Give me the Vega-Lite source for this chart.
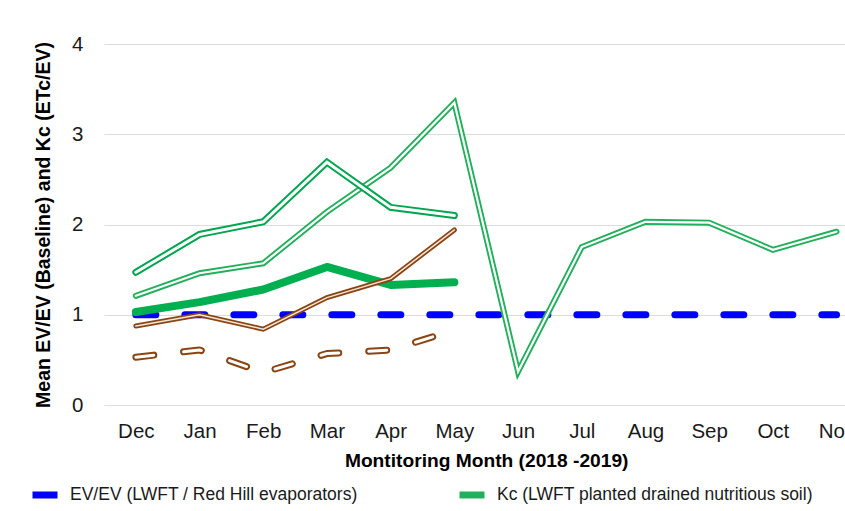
{
  "$schema": "https://vega.github.io/schema/vega-lite/v6.json",
  "width": 741,
  "height": 361,
  "autosize": {"type": "none"},
  "padding": {"left": 104, "top": 44, "right": 0, "bottom": 106},
  "background": "white",
  "config": {
    "view": {"stroke": null},
    "font": "Liberation Sans, Arial",
    "axis": {
      "labelFont": "Liberation Sans, Arial",
      "titleFont": "Liberation Sans, Arial",
      "labelColor": "#1a1a1a",
      "titleColor": "#000000"
    },
    "legend": {
      "labelFont": "Liberation Sans, Arial"
    }
  },
  "datasets": {
    "kc": [
      {"month": "Dec", "series": "EV/EV (LWFT / Red Hill evaporators)", "value": 1},
      {"month": "Jan", "series": "EV/EV (LWFT / Red Hill evaporators)", "value": 1},
      {"month": "Feb", "series": "EV/EV (LWFT / Red Hill evaporators)", "value": 1},
      {"month": "Mar", "series": "EV/EV (LWFT / Red Hill evaporators)", "value": 1},
      {"month": "Apr", "series": "EV/EV (LWFT / Red Hill evaporators)", "value": 1},
      {"month": "May", "series": "EV/EV (LWFT / Red Hill evaporators)", "value": 1},
      {"month": "Jun", "series": "EV/EV (LWFT / Red Hill evaporators)", "value": 1},
      {"month": "Jul", "series": "EV/EV (LWFT / Red Hill evaporators)", "value": 1},
      {"month": "Aug", "series": "EV/EV (LWFT / Red Hill evaporators)", "value": 1},
      {"month": "Sep", "series": "EV/EV (LWFT / Red Hill evaporators)", "value": 1},
      {"month": "Oct", "series": "EV/EV (LWFT / Red Hill evaporators)", "value": 1},
      {"month": "Nov", "series": "EV/EV (LWFT / Red Hill evaporators)", "value": 1},
      {"month": "Dec", "series": "Kc (LWFT planted drained nutritious soil)", "value": 1.21},
      {"month": "Jan", "series": "Kc (LWFT planted drained nutritious soil)", "value": 1.46},
      {"month": "Feb", "series": "Kc (LWFT planted drained nutritious soil)", "value": 1.57},
      {"month": "Mar", "series": "Kc (LWFT planted drained nutritious soil)", "value": 2.14},
      {"month": "Apr", "series": "Kc (LWFT planted drained nutritious soil)", "value": 2.63},
      {"month": "May", "series": "Kc (LWFT planted drained nutritious soil)", "value": 3.35},
      {"month": "Jun", "series": "Kc (LWFT planted drained nutritious soil)", "value": 0.37},
      {"month": "Jul", "series": "Kc (LWFT planted drained nutritious soil)", "value": 1.75},
      {"month": "Aug", "series": "Kc (LWFT planted drained nutritious soil)", "value": 2.03},
      {"month": "Sep", "series": "Kc (LWFT planted drained nutritious soil)", "value": 2.02},
      {"month": "Oct", "series": "Kc (LWFT planted drained nutritious soil)", "value": 1.72},
      {"month": "Nov", "series": "Kc (LWFT planted drained nutritious soil)", "value": 1.92},
      {"month": "Dec", "series": "Kc (LWFT planted undrained nutritious soil)", "value": 1.47},
      {"month": "Jan", "series": "Kc (LWFT planted undrained nutritious soil)", "value": 1.89},
      {"month": "Feb", "series": "Kc (LWFT planted undrained nutritious soil)", "value": 2.03},
      {"month": "Mar", "series": "Kc (LWFT planted undrained nutritious soil)", "value": 2.69},
      {"month": "Apr", "series": "Kc (LWFT planted undrained nutritious soil)", "value": 2.19},
      {"month": "May", "series": "Kc (LWFT planted undrained nutritious soil)", "value": 2.1},
      {"month": "Dec", "series": "Kc (LWFT planted mean nutritious soil)", "value": 1.03},
      {"month": "Jan", "series": "Kc (LWFT planted mean nutritious soil)", "value": 1.14},
      {"month": "Feb", "series": "Kc (LWFT planted mean nutritious soil)", "value": 1.28},
      {"month": "Mar", "series": "Kc (LWFT planted mean nutritious soil)", "value": 1.53},
      {"month": "Apr", "series": "Kc (LWFT planted mean nutritious soil)", "value": 1.33},
      {"month": "May", "series": "Kc (LWFT planted mean nutritious soil)", "value": 1.36},
      {"month": "Dec", "series": "Kc (LWFT unplanted drained nutritious soil)", "value": 0.875},
      {"month": "Jan", "series": "Kc (LWFT unplanted drained nutritious soil)", "value": 1.0},
      {"month": "Feb", "series": "Kc (LWFT unplanted drained nutritious soil)", "value": 0.84},
      {"month": "Mar", "series": "Kc (LWFT unplanted drained nutritious soil)", "value": 1.19},
      {"month": "Apr", "series": "Kc (LWFT unplanted drained nutritious soil)", "value": 1.4},
      {"month": "May", "series": "Kc (LWFT unplanted drained nutritious soil)", "value": 1.94},
      {"month": "Dec", "series": "Kc (LWFT unplanted undrained nutritious soil)", "value": 0.53},
      {"month": "Jan", "series": "Kc (LWFT unplanted undrained nutritious soil)", "value": 0.61},
      {"month": "Feb", "series": "Kc (LWFT unplanted undrained nutritious soil)", "value": 0.36},
      {"month": "Mar", "series": "Kc (LWFT unplanted undrained nutritious soil)", "value": 0.57},
      {"month": "Apr", "series": "Kc (LWFT unplanted undrained nutritious soil)", "value": 0.61},
      {"month": "May", "series": "Kc (LWFT unplanted undrained nutritious soil)", "value": 0.83}
    ]
  },
  "data": {"name": "kc"},
  "encoding": {
    "x": {
      "field": "month",
      "type": "ordinal",
      "sort": ["Dec", "Jan", "Feb", "Mar", "Apr", "May", "Jun", "Jul", "Aug", "Sep", "Oct", "Nov"],
      "scale": {"type": "point", "range": [0, 764.4], "padding": 0.5},
      "axis": {
        "title": "Montitoring Month (2018 -2019)",
        "titleFontSize": 19.2,
        "titleFontWeight": "bold",
        "titlePadding": 10,
        "labelFontSize": 20.5,
        "labelPadding": 16,
        "labelAngle": 0,
        "domain": false,
        "ticks": false,
        "grid": false
      }
    },
    "y": {
      "field": "value",
      "type": "quantitative",
      "scale": {"domain": [0, 4]},
      "axis": {
        "title": "Mean EV/EV (Baseline) and Kc (ETc/EV)",
        "titleFontSize": 19.5,
        "titleFontWeight": "bold",
        "titlePadding": 18,
        "labelFontSize": 20.5,
        "labelPadding": 21,
        "values": [0, 1, 2, 3, 4],
        "domain": false,
        "ticks": false,
        "grid": true,
        "gridColor": "#dcdcdc",
        "gridWidth": 1.2
      }
    }
  },
  "layer": [
    {
      "transform": [{"filter": "datum.series === 'EV/EV (LWFT / Red Hill evaporators)'"}],
      "mark": {"type": "line", "strokeWidth": 7, "strokeDash": [20, 29], "strokeCap": "round"},
      "encoding": {
        "color": {
          "field": "series",
          "type": "nominal",
          "scale": {
            "domain": [
              "EV/EV (LWFT / Red Hill evaporators)",
              "Kc (LWFT planted drained nutritious soil)",
              "Kc (LWFT planted undrained nutritious soil)",
              "Kc (LWFT unplanted drained nutritious soil)",
              "Kc (LWFT planted mean nutritious soil)",
              "Kc (LWFT unplanted undrained nutritious soil)"
            ],
            "range": ["#0000ff", "#22b05c", "#00a650", "#8b4513", "#00b050", "#8b4513"]
          },
          "legend": {
            "title": null,
            "orient": "none",
            "direction": "horizontal",
            "legendX": -75,
            "legendY": 435,
            "columns": 2,
            "columnPadding": 39,
            "rowPadding": 4,
            "symbolType": "stroke",
            "symbolStrokeWidth": 7,
            "symbolSize": 625,
            "labelFontSize": 17.5,
            "labelColor": "#1a1a1a",
            "labelLimit": 400,
            "labelOffset": 9
          }
        }
      }
    },
    {
      "transform": [{"filter": "datum.series === 'Kc (LWFT planted drained nutritious soil)'"}],
      "mark": {"type": "line", "strokeWidth": 6, "strokeCap": "round", "strokeJoin": "miter"},
      "encoding": {"color": {"field": "series", "type": "nominal"}}
    },
    {
      "transform": [{"filter": "datum.series === 'Kc (LWFT planted drained nutritious soil)'"}],
      "mark": {"type": "line", "strokeWidth": 2.2, "color": "#ffffff", "strokeCap": "round", "strokeJoin": "miter"},
      "encoding": {}
    },
    {
      "transform": [{"filter": "datum.series === 'Kc (LWFT planted undrained nutritious soil)'"}],
      "mark": {"type": "line", "strokeWidth": 7, "strokeCap": "round", "strokeJoin": "miter"},
      "encoding": {"color": {"field": "series", "type": "nominal"}}
    },
    {
      "transform": [{"filter": "datum.series === 'Kc (LWFT planted undrained nutritious soil)'"}],
      "mark": {"type": "line", "strokeWidth": 3, "color": "#ffffff", "strokeCap": "round", "strokeJoin": "miter"},
      "encoding": {}
    },
    {
      "transform": [{"filter": "datum.series === 'Kc (LWFT planted mean nutritious soil)'"}],
      "mark": {"type": "line", "strokeWidth": 8, "strokeCap": "round", "strokeJoin": "round"},
      "encoding": {"color": {"field": "series", "type": "nominal"}}
    },
    {
      "transform": [{"filter": "datum.series === 'Kc (LWFT unplanted drained nutritious soil)'"}],
      "mark": {"type": "line", "strokeWidth": 5, "strokeCap": "round", "strokeJoin": "miter"},
      "encoding": {"color": {"field": "series", "type": "nominal"}}
    },
    {
      "transform": [{"filter": "datum.series === 'Kc (LWFT unplanted drained nutritious soil)'"}],
      "mark": {"type": "line", "strokeWidth": 1.5, "color": "#f4e6da", "strokeCap": "round", "strokeJoin": "miter"},
      "encoding": {}
    },
    {
      "transform": [{"filter": "datum.series === 'Kc (LWFT unplanted undrained nutritious soil)'"}],
      "mark": {"type": "line", "strokeWidth": 7, "strokeDash": [18, 30], "strokeCap": "round", "strokeJoin": "round"},
      "encoding": {"color": {"field": "series", "type": "nominal"}}
    },
    {
      "transform": [{"filter": "datum.series === 'Kc (LWFT unplanted undrained nutritious soil)'"}],
      "mark": {"type": "line", "strokeWidth": 3, "strokeDash": [18, 30], "color": "#ffffff", "strokeCap": "round", "strokeJoin": "round"},
      "encoding": {}
    }
  ]
}
